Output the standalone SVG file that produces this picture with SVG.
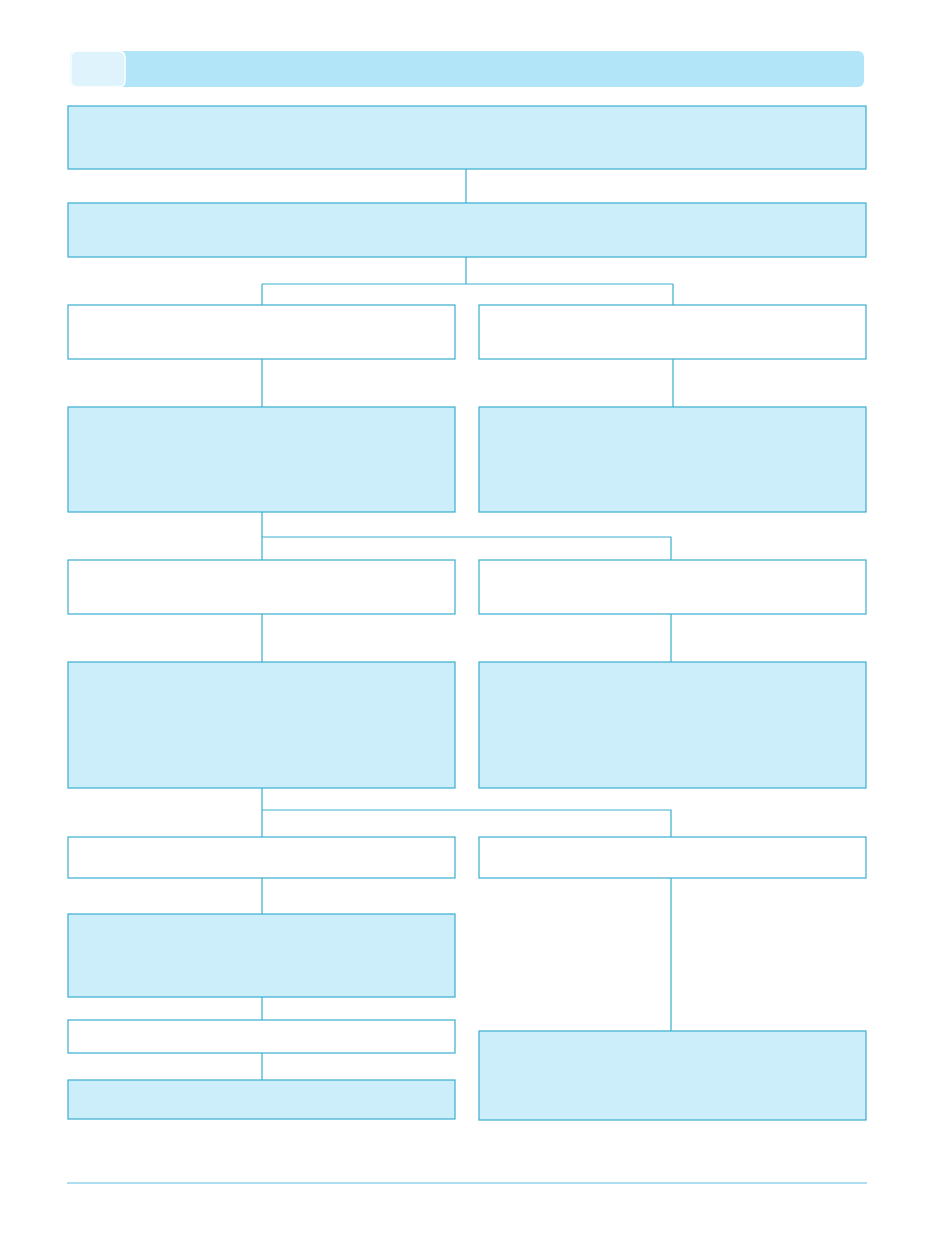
<svg xmlns="http://www.w3.org/2000/svg" width="935" height="1254" viewBox="0 0 935 1254">
<style>
.f{fill:#cceefa;stroke:#3aaed0;stroke-width:1.2}
.w{fill:#ffffff;stroke:#3aaed0;stroke-width:1.2}
.c{fill:none;stroke:#3aaed0;stroke-width:1.2}
</style>
<rect width="935" height="1254" fill="#ffffff"/>
<g id="header">
<rect x="70" y="51" width="794" height="36" rx="6" fill="#b3e5f8"/>
<rect x="71" y="51" width="54" height="36" rx="6" fill="#def3fc" stroke="#ffffff" stroke-width="1.5"/>
</g>
<g id="connectors">
<path class="c" d="M466 169V203"/>
<path class="c" d="M466 257V284M262 284H673M262 284V305M673 284V305"/>
<path class="c" d="M262 359V407M673 359V407"/>
<path class="c" d="M262 512V560M262 537H671V560"/>
<path class="c" d="M262 614V662M671 614V662"/>
<path class="c" d="M262 788V837M262 810H671V837"/>
<path class="c" d="M262 878V914M671 878V1031"/>
<path class="c" d="M262 997V1020M262 1053V1080"/>
</g>
<g id="n1"><rect class="f" x="68" y="106" width="798" height="63"/></g>
<g id="n2"><rect class="f" x="68" y="203" width="798" height="54"/></g>
<g id="n3l"><rect class="w" x="68" y="305" width="387" height="54"/></g>
<g id="n3r"><rect class="w" x="479" y="305" width="387" height="54"/></g>
<g id="n4l"><rect class="f" x="68" y="407" width="387" height="105"/></g>
<g id="n4r"><rect class="f" x="479" y="407" width="387" height="105"/></g>
<g id="n5l"><rect class="w" x="68" y="560" width="387" height="54"/></g>
<g id="n5r"><rect class="w" x="479" y="560" width="387" height="54"/></g>
<g id="n6l"><rect class="f" x="68" y="662" width="387" height="126"/></g>
<g id="n6r"><rect class="f" x="479" y="662" width="387" height="126"/></g>
<g id="n7l"><rect class="w" x="68" y="837" width="387" height="41"/></g>
<g id="n7r"><rect class="w" x="479" y="837" width="387" height="41"/></g>
<g id="n8l"><rect class="f" x="68" y="914" width="387" height="83"/></g>
<g id="n9l"><rect class="w" x="68" y="1020" width="387" height="33"/></g>
<g id="n10l"><rect class="f" x="68" y="1080" width="387" height="39"/></g>
<g id="n8r"><rect class="f" x="479" y="1031" width="387" height="89"/></g>
<g id="footer"><line x1="67" y1="1183" x2="867" y2="1183" stroke="#5bbde0" stroke-width="1.2"/></g>
</svg>
